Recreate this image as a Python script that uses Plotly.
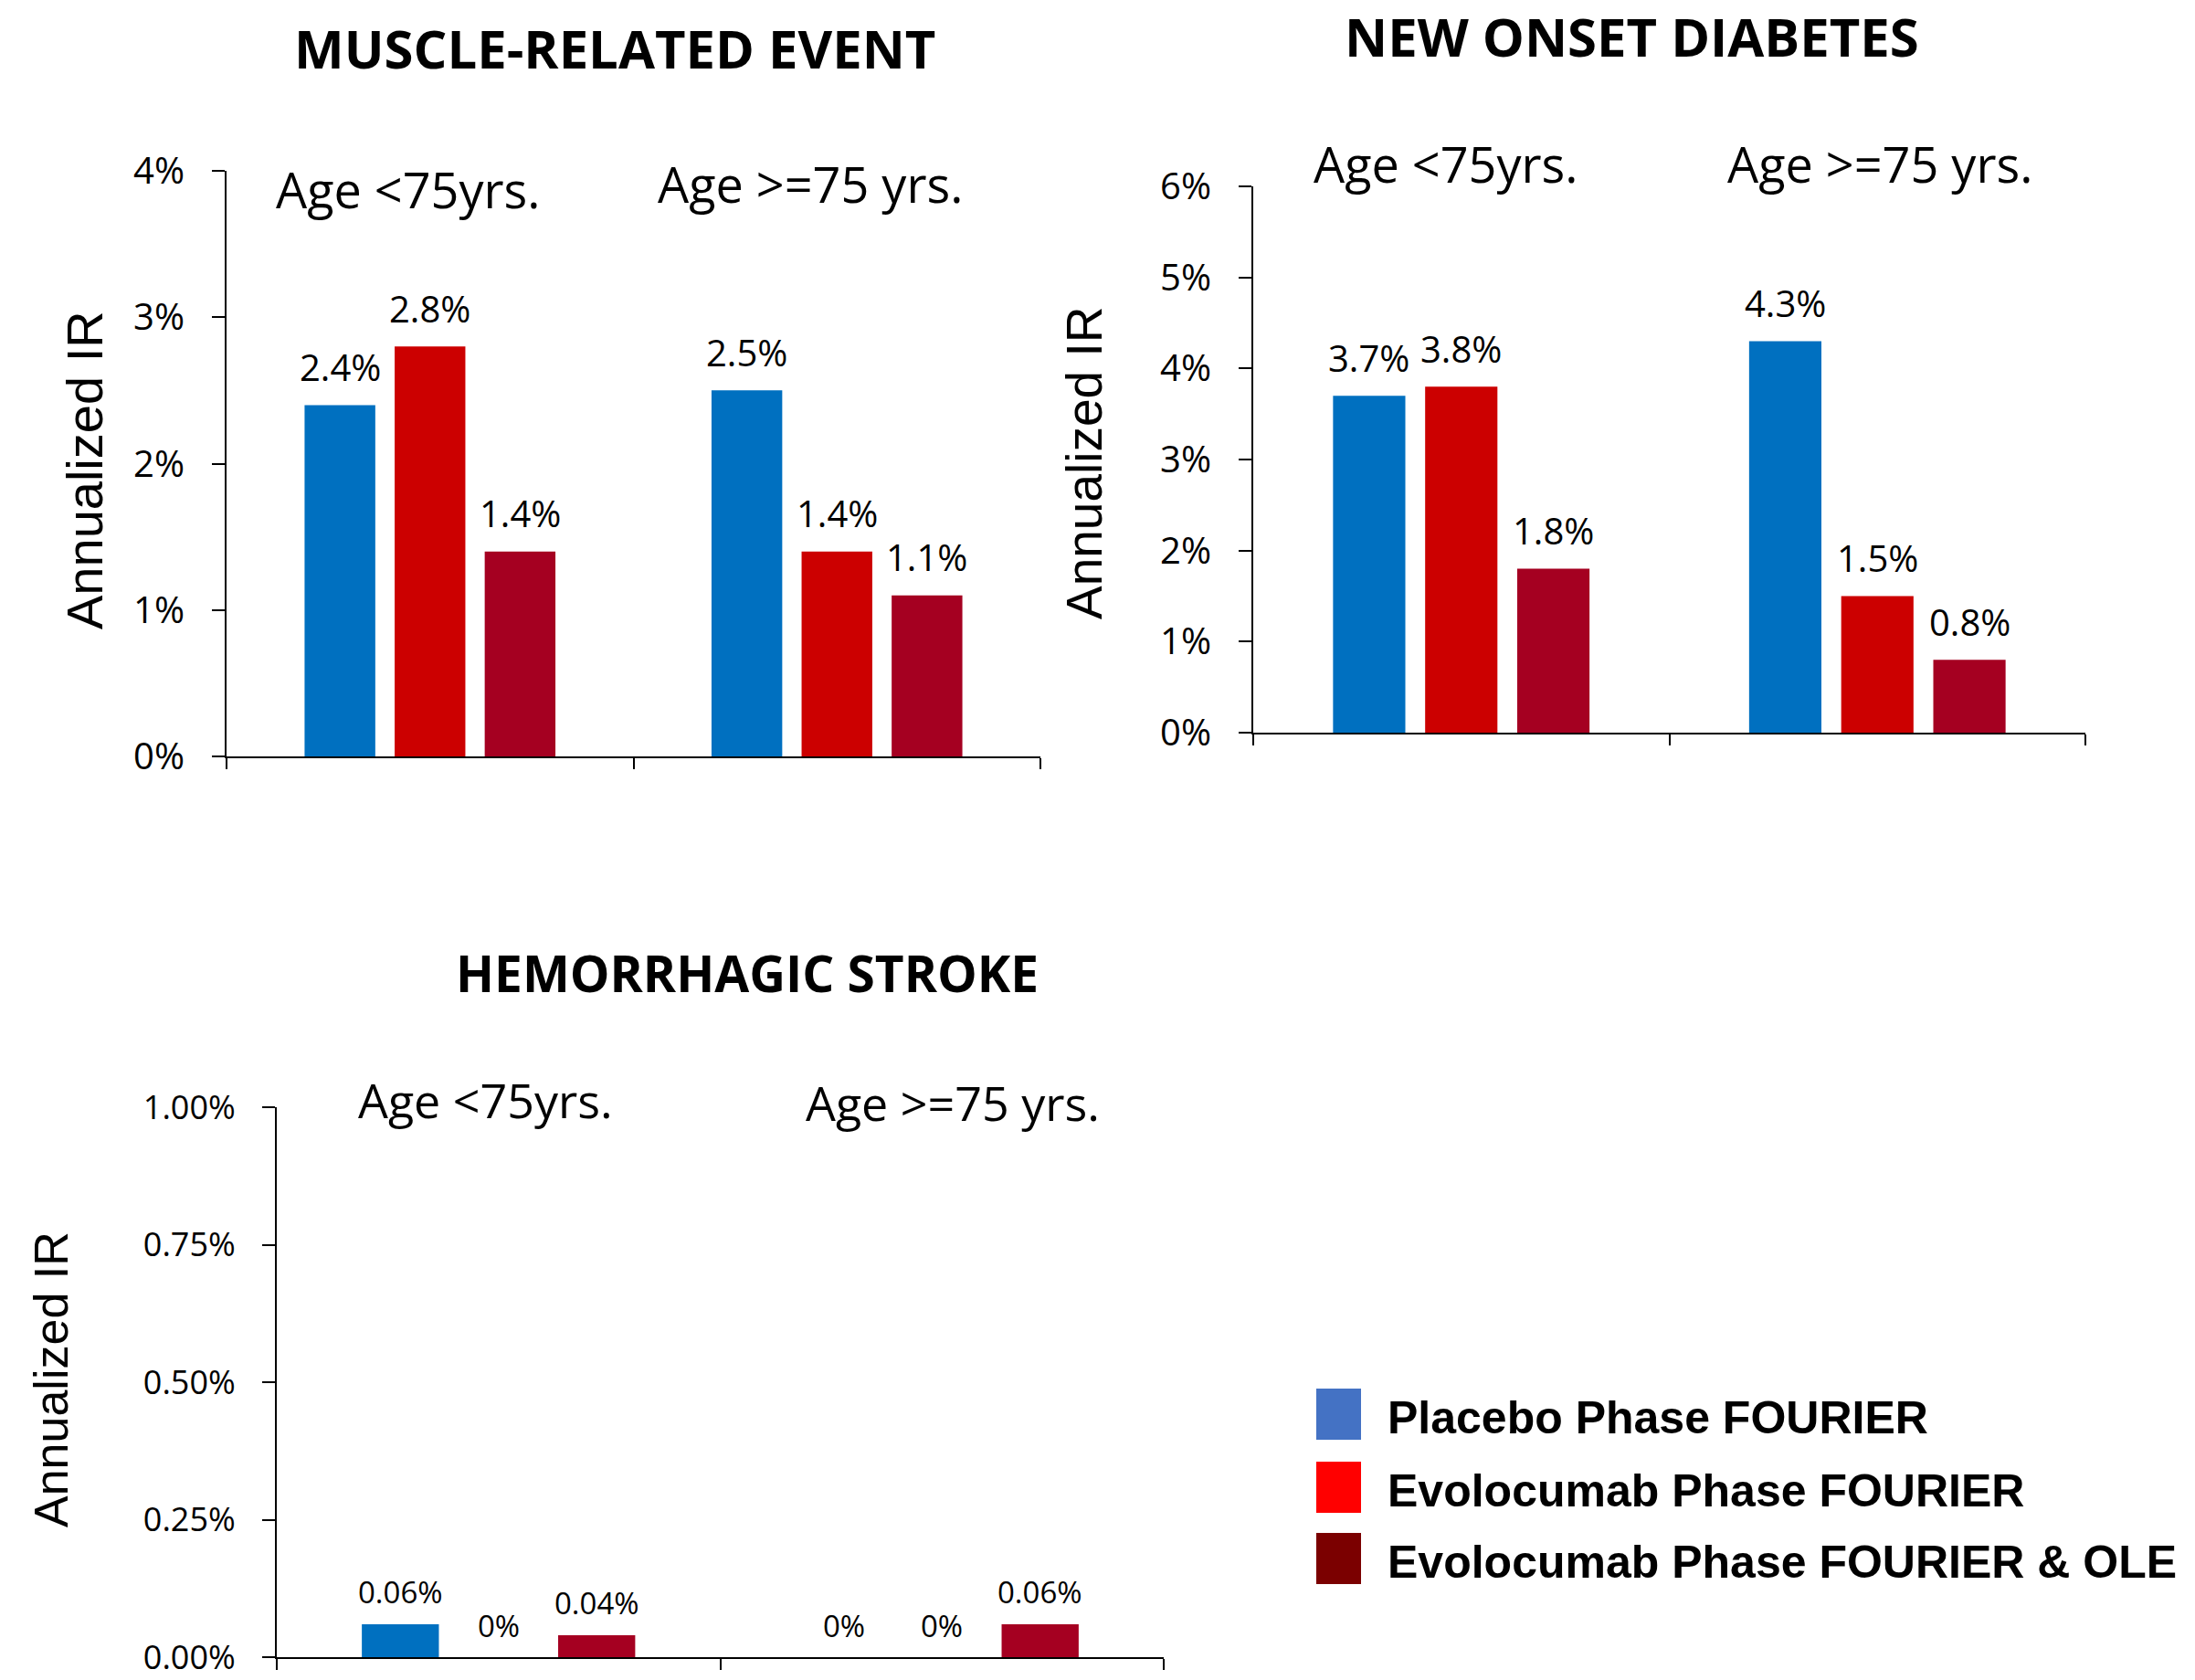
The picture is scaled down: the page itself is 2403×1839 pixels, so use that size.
import plotly.graph_objects as go

W, H = 2403, 1839

# ---- data -------------------------------------------------------------
age_groups = ["Age <75yrs.", "Age >=75 yrs."]
series_names = [
    "Placebo Phase FOURIER",
    "Evolocumab Phase FOURIER",
    "Evolocumab Phase FOURIER & OLE",
]
bar_colors = ["#0070C0", "#CC0000", "#A50021"]
legend_colors = ["#4472C4", "#FF0000", "#7B0000"]

muscle_placebo = [2.4, 2.5]
muscle_evo = [2.8, 1.4]
muscle_evo_ole = [1.4, 1.1]

diabetes_placebo = [3.7, 4.3]
diabetes_evo = [3.8, 1.5]
diabetes_evo_ole = [1.8, 0.8]

stroke_placebo = [0.06, 0.0]
stroke_evo = [0.0, 0.0]
stroke_evo_ole = [0.04, 0.06]

panel_titles = ["MUSCLE-RELATED EVENT", "NEW ONSET DIABETES", "HEMORRHAGIC STROKE"]
y_title = "Annualized IR"

# ---- styling ----------------------------------------------------------
BODY = "Open Sans, sans-serif"
ARIAL = "Liberation Sans, Arial, sans-serif"
INK = "#000000"
BARGAP = 0.336
GROUPGAP = 0.215


def px_x(x):
    return x / W


def px_y(y):
    return 1 - y / H


panels = [
    dict(
        title=panel_titles[0],
        series=[muscle_placebo, muscle_evo, muscle_evo_ole],
        box=(248, 1139, 187, 828), yrange=[0, 4], dtick=1, tickformat="d",
        decimals=1, title_xy=(673, 52), title_size=58,
        sub_xy=[(447, 207), (887, 201)], sub_size=54,
        ytitle_xy=(92, 515), ytitle_size=56, tick_size=40,
        label_size=40, label_shift=42,
    ),
    dict(
        title=panel_titles[1],
        series=[diabetes_placebo, diabetes_evo, diabetes_evo_ole],
        box=(1372, 2283, 204, 802), yrange=[0, 6], dtick=1, tickformat="d",
        decimals=1, title_xy=(1786, 40), title_size=58,
        sub_xy=[(1583, 179), (2058, 179)], sub_size=54,
        ytitle_xy=(1187, 507), ytitle_size=55, tick_size=40,
        label_size=40, label_shift=42,
    ),
    dict(
        title=panel_titles[2],
        series=[stroke_placebo, stroke_evo, stroke_evo_ole],
        box=(303, 1274, 1212, 1814), yrange=[0, 1], dtick=0.25, tickformat=".2f",
        decimals=2, title_xy=(818, 1064), title_size=55,
        sub_xy=[(531, 1203), (1043, 1206)], sub_size=52,
        ytitle_xy=(56, 1510), ytitle_size=52, tick_size=36,
        label_size=33, label_shift=35,
    ),
]


def fmt_value(v, decimals):
    return "0%" if v == 0 else f"{v:.{decimals}f}%"


fig = go.Figure()
annotations = []
shapes = []
layout_axes = {}

slot = (1 - BARGAP) / 3

for p_idx, p in enumerate(panels):
    n = "" if p_idx == 0 else str(p_idx + 1)
    xa, ya = f"x{n}", f"y{n}"
    x0, x1, y0, y1 = p["box"]

    for s_idx, values in enumerate(p["series"]):
        fig.add_trace(go.Bar(
            x=age_groups, y=values, name=series_names[s_idx],
            marker=dict(color=bar_colors[s_idx], line=dict(width=0)),
            xaxis=xa, yaxis=ya, showlegend=False, hoverinfo="skip",
        ))
        # value labels above each bar
        for g_idx, v in enumerate(values):
            annotations.append(dict(
                x=g_idx + (s_idx - 1) * slot, y=v, xref=xa, yref=ya,
                text=fmt_value(v, p["decimals"]), showarrow=False,
                yanchor="middle", yshift=p["label_shift"],
                font=dict(family=BODY, size=p["label_size"], color=INK),
            ))

    layout_axes[f"xaxis{n}"] = dict(
        domain=[px_x(x0), px_x(x1)], anchor=ya, type="category",
        range=[-0.5, 1.5], showline=True, linecolor=INK, linewidth=2,
        ticks="outside", tickson="boundaries", ticklen=12, tickwidth=2,
        tickcolor=INK, showticklabels=False, showgrid=False, zeroline=False,
        automargin=False, fixedrange=True,
    )
    layout_axes[f"yaxis{n}"] = dict(
        domain=[px_y(y1), px_y(y0)], anchor=xa, range=p["yrange"],
        dtick=p["dtick"], tick0=0, tickformat=p["tickformat"], ticksuffix="%",
        showline=True, linecolor=INK, linewidth=2, ticks="outside",
        ticklen=14, tickwidth=2, tickcolor=INK, showgrid=False,
        zeroline=False, ticklabelstandoff=22, automargin=False,
        ticklabeloverflow="allow",
        tickfont=dict(family=BODY, size=p["tick_size"], color=INK),
        fixedrange=True,
    )

    # panel heading
    tx, ty = p["title_xy"]
    annotations.append(dict(
        x=px_x(tx), y=px_y(ty), xref="paper", yref="paper",
        text=f"<b>{p['title']}</b>", showarrow=False,
        xanchor="center", yanchor="middle",
        font=dict(family=BODY, size=p["title_size"], color=INK),
    ))
    # age group headings
    for g_idx, (sx, sy) in enumerate(p["sub_xy"]):
        annotations.append(dict(
            x=px_x(sx), y=px_y(sy), xref="paper", yref="paper",
            text=age_groups[g_idx], showarrow=False,
            xanchor="center", yanchor="middle",
            font=dict(family=BODY, size=p["sub_size"], color=INK),
        ))
    # y axis title
    ax_, ay_ = p["ytitle_xy"]
    annotations.append(dict(
        x=px_x(ax_), y=px_y(ay_), xref="paper", yref="paper",
        text=y_title, showarrow=False, textangle=-90,
        xanchor="center", yanchor="middle",
        font=dict(family=ARIAL, size=p["ytitle_size"], color=INK),
    ))

# ---- legend -----------------------------------------------------------
legend_rows = [1548, 1628, 1706]
for i, name in enumerate(series_names):
    cy = legend_rows[i]
    shapes.append(dict(
        type="rect", xref="paper", yref="paper",
        x0=px_x(1441), x1=px_x(1490), y0=px_y(cy + 28), y1=px_y(cy - 28),
        fillcolor=legend_colors[i], line=dict(width=0),
    ))
    annotations.append(dict(
        x=px_x(1517), y=px_y(cy + 4), xref="paper", yref="paper",
        text=f"<b>{name}</b>", showarrow=False,
        xanchor="left", yanchor="middle",
        font=dict(family=ARIAL, size=50, color=INK),
    ))

fig.update_layout(
    template="none",
    width=W, height=H, autosize=False,
    margin=dict(l=0, r=0, t=0, b=0, pad=0, autoexpand=False),
    paper_bgcolor="white", plot_bgcolor="white",
    barmode="group", bargap=BARGAP, bargroupgap=GROUPGAP,
    showlegend=False,
    annotations=annotations, shapes=shapes,
    **layout_axes,
)

fig.write_html("out.html")
